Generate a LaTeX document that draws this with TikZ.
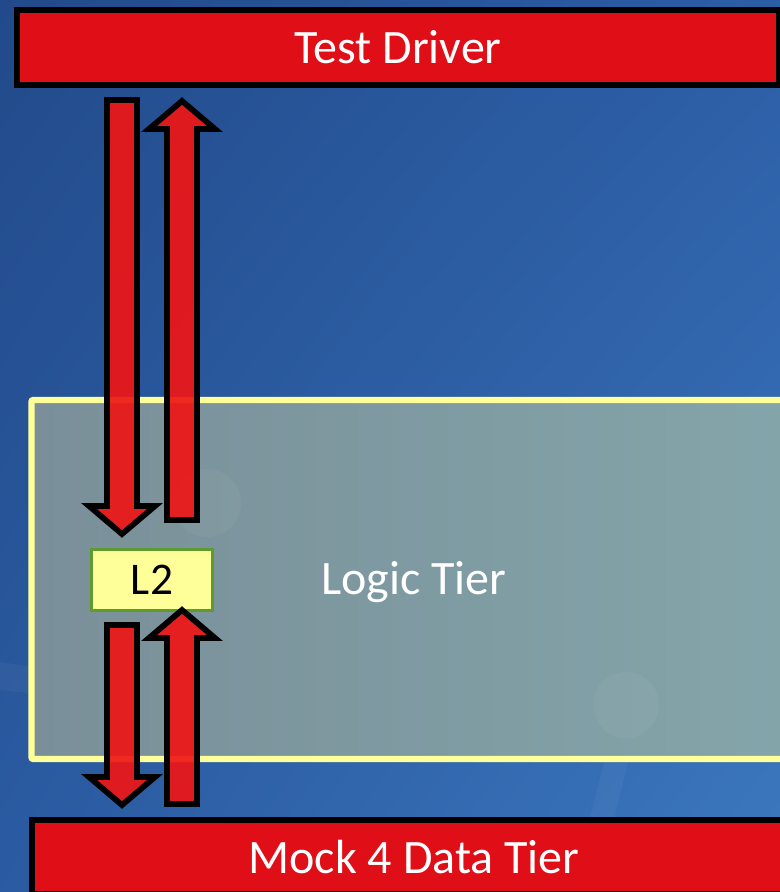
\documentclass[tikz,border=0pt]{standalone}
\usepackage{fontspec}
\setmainfont{Carlito}
\usetikzlibrary{calc,positioning,shadings}

\definecolor{bgdark}{HTML}{224A8A}
\definecolor{bgmid}{HTML}{2C5EA6}
\definecolor{bglight}{HTML}{3C78BF}
\definecolor{barred}{HTML}{E00E17}
\definecolor{arrowred}{HTML}{EE1616}
\definecolor{tierline}{HTML}{FFFF99}
\definecolor{tierleft}{HTML}{7A8F99}
\definecolor{tierright}{HTML}{84A6AB}
\definecolor{boxfill}{HTML}{FFFF99}
\definecolor{boxline}{HTML}{5E9A2E}

\tikzset{
  tierbar/.style={draw=black, line width=4.5pt, fill=barred, text=white,
    font=\fontsize{36}{42}\selectfont, inner sep=0pt},
  tierbox/.style={draw=tierline, line width=4.8pt, rounded corners=1.5pt,
    left color=tierleft, right color=tierright, inner sep=0pt},
  tierlabel/.style={text=white, font=\fontsize{36}{42}\selectfont, inner sep=0pt},
  layerbox/.style={draw=boxline, line width=2.25pt, fill=boxfill,
    font=\fontsize{34}{40}\selectfont, minimum width=90.75pt,
    minimum height=45.75pt, inner sep=0pt},
  bigarrow/.style={draw=black, line width=4.3pt, fill=arrowred,
    fill opacity=0.92, line join=miter, miter limit=10},
  ghost/.style={fill=white, fill opacity=0.04, draw=none},
}

% block arrow from #1 to #2 (tip at #2)
\newcommand{\blockarrow}[2]{%
  \coordinate (hb) at ($(#2)!21pt!(#1)$);
  \draw[bigarrow] ($(#1)!11.25pt!90:(#2)$) -- ($(hb)!11.25pt!90:(#2)$)
    -- ($(hb)!24.75pt!90:(#2)$) -- (#2) -- ($(hb)!24.75pt!-90:(#2)$)
    -- ($(hb)!11.25pt!-90:(#2)$) -- ($(#1)!11.25pt!-90:(#2)$) -- cycle;}

\begin{document}
\begin{tikzpicture}[x=0.75pt, y=-0.75pt]
	% Rahmen
		\useasboundingbox (0,0) rectangle (780,892);
		\clip (0,0) rectangle (780,892);
		\shade[upper left=bgdark, upper right=bgmid, lower left=bgmid!85!bgdark,
		  lower right=bglight] (0,0) rectangle (780,892);
		\fill[ghost] (0,662) -- (95,676) -- (95,700) -- (0,690) -- cycle;
		\fill[ghost] (612,730) -- (636,730) -- (596,892) -- (572,892) -- cycle;
	% Schichten
		\node[tierbar, minimum width=571.5pt, minimum height=55.9pt] (driver) at (398,47.25) {Test Driver};
		\node[tierbox, minimum width=591.4pt, minimum height=269.25pt] (logic) at (425.75,579.5) {};
		\fill[ghost] (207,503) circle (34);
		\fill[ghost] (626,705) circle (33);
		\node[tierlabel] (logiclbl) at (414,582) {Logic Tier};
		\node[tierbar, minimum width=573pt, minimum height=55.5pt] (mock) at (414,857) {Mock 4 Data Tier};
		\node[layerbox] (l2) at (152,580) {L2};
	% Pfeile
		\coordinate (d1s) at (122,100);
		\coordinate (d1e) at (122,534);
		\coordinate (u1s) at (182,520);
		\coordinate (u1e) at (182,101);
		\coordinate (d2s) at (122,625);
		\coordinate (d2e) at (122,805);
		\coordinate (u2s) at (182,804);
		\coordinate (u2e) at (182,610);
		\blockarrow{d1s}{d1e}
		\blockarrow{u1s}{u1e}
		\blockarrow{d2s}{d2e}
		\blockarrow{u2s}{u2e}
\end{tikzpicture}
\end{document}
